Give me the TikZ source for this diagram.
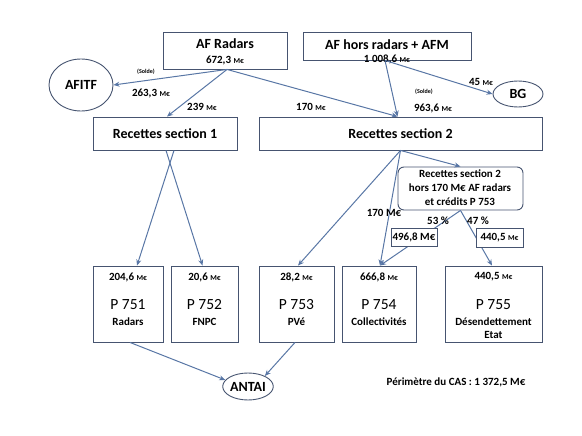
\documentclass[tikz,border=0pt]{standalone}
\usepackage{fontspec}
\setmainfont{Carlito}
\usetikzlibrary{arrows.meta,shapes.geometric}
\definecolor{boxc}{RGB}{70,84,112}
\definecolor{linec}{RGB}{88,118,165}
\newcommand\hdf{\fontsize{14}{16}\selectfont\bfseries}
\newcommand\numf{\fontsize{11}{13}\selectfont\bfseries}
\newcommand\smf{\fontsize{7.5}{9}\selectfont\bfseries}
\newcommand\tnf{\fontsize{6}{7}\selectfont\bfseries}
\newcommand\pf{\fontsize{15.5}{17}\selectfont}
\newcommand\me{{\smf M€}}
\begin{document}
\begin{tikzpicture}[x=1pt,y=-1pt,
  box/.style={draw=boxc,line width=0.9pt,inner sep=0pt,fill=white},
  ell/.style={draw=boxc,line width=0.9pt,ellipse,inner sep=0pt},
  arr/.style={draw=linec,line width=1pt,-{Stealth[length=6pt,width=5pt]}},
  txt/.style={inner sep=0pt,text=black}]
\useasboundingbox (0,0) rectangle (582,436);
% boxes
\node[box,minimum width=124pt,minimum height=37pt] (afr) at (225,50.5) {};
\node[box,minimum width=168pt,minimum height=28pt] (afh) at (387,46) {};
\node[ell,minimum width=64pt,minimum height=52pt] (afitf) at (81,85) {\hdf AFITF};
\node[ell,minimum width=50pt,minimum height=26pt] (bg) at (518,94) {\hdf BG};
\node[box,minimum width=144pt,minimum height=33pt] (rs1) at (165,133.5) {\hdf Recettes section 1};
\node[box,minimum width=283pt,minimum height=33pt] (rs2) at (400.5,133.5) {\hdf Recettes section 2};
\node[box,rounded corners=6pt,minimum width=125pt,minimum height=43pt] (hors) at (460.5,188.5) {};
\node[box,minimum width=70pt,minimum height=76pt] (p751) at (128,304) {};
\node[box,minimum width=67pt,minimum height=76pt] (p752) at (204.5,304) {};
\node[box,minimum width=75pt,minimum height=76pt] (p753) at (296.5,304) {};
\node[box,minimum width=74pt,minimum height=76pt] (p754) at (379,304) {};
\node[box,minimum width=97pt,minimum height=76pt] (p755) at (493.5,304) {};
\node[ell,minimum width=50pt,minimum height=27pt] (antai) at (248,386.5) {\hdf ANTAI};
% texts in boxes
\node[txt] (afrt) at (225,44) {\hdf AF Radars};
\node[txt] (afrv) at (225,60) {\numf 672,3 \me};
\node[txt] (afht) at (387,45) {\hdf AF hors radars + AFM};
\node[txt] (afhv) at (387,59.5) {\numf 1 008,6 \me};
\node[txt] (h1) at (460,174) {\numf Recettes section 2};
\node[txt] (h2) at (460,188) {\numf hors 170 M€ AF radars};
\node[txt] (h3) at (460,202) {\numf et crédits P 753};
\foreach \n/\v/\p/\l in {p751/{204,6}/P 751/Radars,p752/{20,6}/P 752/FNPC,p753/{28,2}/P 753/PVé,p754/{666,8}/P 754/Collectivités,p755/{440,5}/P 755/Désendettement}{
  \node[txt] (\n-v) at ([yshift=27pt]\n.center) {\numf \v\ \me};
  \node[txt] (\n-p) at ([yshift=-1pt]\n.center) {\pf \p};
  \node[txt] (\n-l) at ([yshift=-18pt]\n.center) {\numf \l};
}
\node[txt] (p755e) at ([yshift=-31pt]p755.center) {\numf Etat};
% connectors
\draw[arr] ([xshift=2pt]afr.south) -- (afitf.east);
\draw[arr] ([xshift=2pt]afr.south) -- ([xshift=2pt]rs1.north);
\draw[arr] ([xshift=2pt]afr.south) -- ([xshift=-3pt]rs2.north);
\draw[arr] ([xshift=-2pt]afh.south) -- ([xshift=-3pt]rs2.north);
\draw[arr] ([xshift=-2pt]afh.south) -- (bg.west);
\draw[arr] ([xshift=9pt]rs1.south) -- ([xshift=9pt]p751.north);
\draw[arr] ([xshift=1pt]rs1.south) -- ([xshift=-2pt]p752.north);
\draw[arr] (rs2.south) -- ([xshift=1.5pt]p753.north);
\draw[arr] (rs2.south) -- ([xshift=1pt]p754.north);
\draw[arr] (rs2.south) -- (hors.north);
\draw[arr] (hors.south) -- ([xshift=1pt]p754.north);
\draw[arr] (hors.south) -- ([xshift=-1.5pt]p755.north);
\draw[arr] ([xshift=2pt]p751.south) -- (antai.164);
\draw[arr] ([xshift=-1.5pt]p753.south) -- (antai.32);
% small value boxes (drawn over lines)
\node[box,minimum width=46pt,minimum height=18pt] (b4968) at (414,237) {\numf 496,8 M€};
\node[box,minimum width=47pt,minimum height=19pt] (b4405) at (499.5,237.5) {\numf 440,5 \me};
% labels
\node[txt] (s1) at (146,72) {\tnf (Solde)};
\node[txt] (l2633) at (151,93) {\numf 263,3 \me};
\node[txt] (l239) at (202,107) {\numf 239 \me};
\node[txt] (l170a) at (311,107) {\numf 170 \me};
\node[txt] (s2) at (424,92) {\tnf (Solde)};
\node[txt] (l9636) at (433,108) {\numf 963,6 \me};
\node[txt] (l45) at (481,82) {\numf 45 \me};
\node[txt] (l170b) at (384,213) {\numf 170 M€};
\node[txt] (l53) at (438,221) {\numf 53 \%};
\node[txt] (l47) at (478,221) {\numf 47 \%};
\node[txt] (perim) at (456,382) {\numf Périmètre du CAS : 1 372,5 M€};
\end{tikzpicture}
\end{document}
